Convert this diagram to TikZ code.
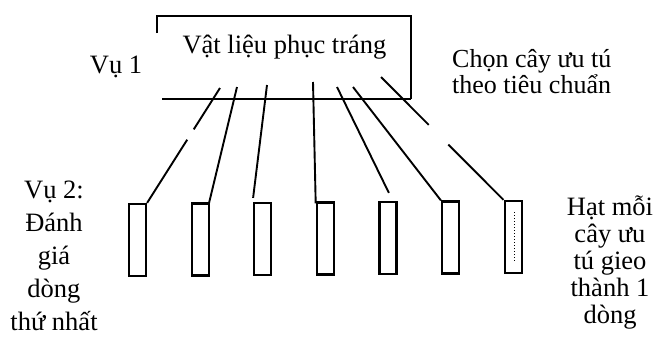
\documentclass[tikz,border=0pt]{standalone}
\usepackage{fontspec}
\setmainfont{Liberation Serif}
\usetikzlibrary{calc}
\begin{document}
\begin{tikzpicture}[x=1pt,y=-1pt,
  boxline/.style={line width=2.2pt},
  fan/.style={line width=1.9pt},
  rowbox/.style={draw, line width=2.2pt, minimum width=17pt, minimum height=72pt, inner sep=0pt},
  txt/.style={inner sep=0pt, font=\fontsize{26.5}{30}\selectfont},
]
\useasboundingbox (0,0) rectangle (657,346);

% open frame round the source material
\coordinate (fa) at (157,33);
\coordinate (fb) at (411,16);
\coordinate (fc) at (411,99);
\coordinate (fd) at (162,99);
\draw[boxline] (fa) |- (fb) -- (fc);
\draw[boxline] (fd) -- (fc);
\node[txt, anchor=base] (mat) at (284.5,53) {Vật liệu phục tráng};

% one row per selected plant
\foreach \i in {1,...,7}
  \node[rowbox] (r\i) at ({137.5+62.6*(\i-1)}, {240-0.5*(\i-1)}) {};
\draw[line width=1pt, dotted] ($(r7.center)+(1,-25)$) -- ($(r7.center)+(1,25)$);

% fan of lines from the frame down to the rows
\coordinate (t1) at (220,88);
\coordinate (t2) at (237,87);
\coordinate (t3) at (267,85);
\coordinate (t4) at (313,82);
\coordinate (t5) at (337,87);
\coordinate (t6) at (353,87);
\coordinate (t7) at (381,77);
\draw[fan] (t1) -- ($(t1)!0.36!(r1.north east)$);
\draw[fan] ($(t1)!0.45!(r1.north east)$) -- (r1.north east);
\draw[fan] (t2) -- ($(r2.north east)+(-1,2)$);
\draw[fan] (t3) -- ($(r3.north west)+(0,-4)$);
\draw[fan] (t4) -- ($(r4.north west)+(0,2)$);
\draw[fan] (t5) -- ($(r5.north)+(1,-8)$);
\draw[fan] (t6) -- (r6.north west);
\draw[fan] (t7) -- ($(t7)!0.39!(r7.north west)$);
\draw[fan] ($(t7)!0.55!(r7.north west)$) -- (r7.north west);

% labels (base anchors sit on the last line)
\node[txt, anchor=base] (v1) at (116,73) {Vụ 1};
\node[txt, anchor=base west, align=left, font=\fontsize{26}{21.6}\selectfont] (sel) at (452,93)
  {Chọn cây ưu tú\\theo tiêu chuẩn};
\node[txt, anchor=base, align=center, font=\fontsize{26.5}{33}\selectfont] (v2) at (54,330)
  {Vụ 2:\\Đánh\\giá\\dòng\\thứ nhất};
\node[txt, anchor=base, align=center, font=\fontsize{26.5}{27}\selectfont] (seed) at (610,323)
  {Hạt mỗi\\cây ưu\\tú gieo\\thành 1\\dòng};
\end{tikzpicture}
\end{document}
